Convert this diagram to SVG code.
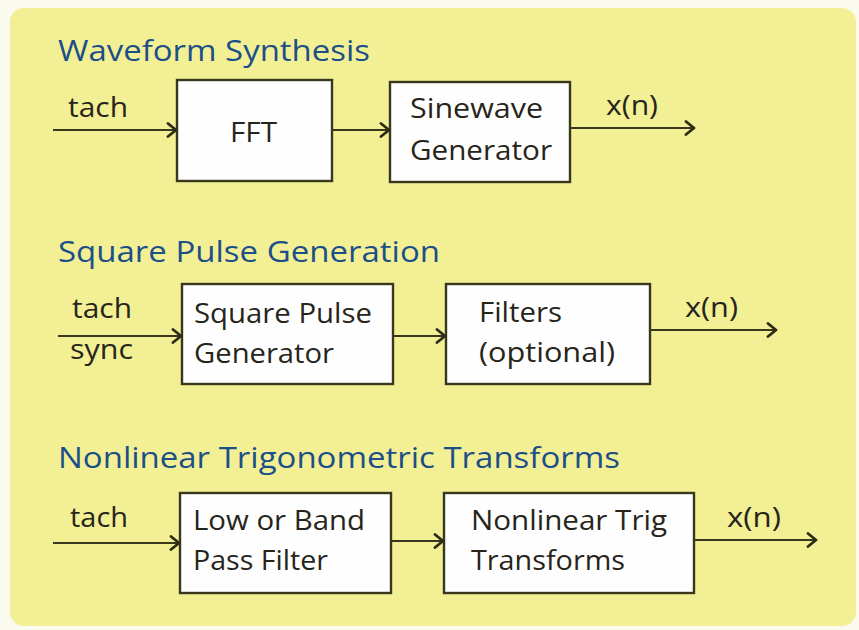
<svg xmlns="http://www.w3.org/2000/svg" width="859" height="630" viewBox="0 0 859 630">
  <defs>
    <marker id="arr" markerUnits="userSpaceOnUse" markerWidth="16" markerHeight="18" refX="10" refY="8" orient="auto">
      <path d="M2,1.5 L10,8 L2,14.5" fill="none" stroke="#2e2c14" stroke-width="2.8" stroke-linecap="round" stroke-linejoin="round"/>
    </marker>
  </defs>
  <style>
    .title { font-family: "Open Sans", "Liberation Sans", sans-serif; font-size: 29px; fill: #1c4f88; }
    .lbl { font-family: "Open Sans", "Liberation Sans", sans-serif; font-size: 27px; fill: #27251a; }
    .box { fill: #fefefe; stroke: #3a381c; stroke-width: 2.4; }
    .conn { fill: none; stroke: #3a381c; stroke-width: 2.2; marker-end: url(#arr); }
  </style>
  <rect x="0" y="0" width="859" height="630" fill="#fbfaee"/>
  <rect x="10" y="8" width="846" height="618" rx="14" fill="#f2ef95"/>

  <!-- Section titles and labels -->
  <g id="titles">
    <text class="title" x="58" y="61" textLength="312" lengthAdjust="spacingAndGlyphs">Waveform Synthesis</text>
    <text class="title" x="58" y="262" textLength="382" lengthAdjust="spacingAndGlyphs">Square Pulse Generation</text>
    <text class="title" x="58" y="468" textLength="562" lengthAdjust="spacingAndGlyphs">Nonlinear Trigonometric Transforms</text>
  </g>

  <g id="labels">
    <text class="lbl" x="68" y="117" textLength="60" lengthAdjust="spacingAndGlyphs">tach</text>
    <text class="lbl" x="606" y="115" textLength="52" lengthAdjust="spacingAndGlyphs">x(n)</text>
    <text class="lbl" x="72" y="318" textLength="60" lengthAdjust="spacingAndGlyphs">tach</text>
    <text class="lbl" x="70" y="359" textLength="63" lengthAdjust="spacingAndGlyphs">sync</text>
    <text class="lbl" x="685" y="317" textLength="53" lengthAdjust="spacingAndGlyphs">x(n)</text>
    <text class="lbl" x="70" y="527" textLength="58" lengthAdjust="spacingAndGlyphs">tach</text>
    <text class="lbl" x="727" y="527" textLength="54" lengthAdjust="spacingAndGlyphs">x(n)</text>
  </g>

  <!-- Nodes -->
  <g id="fft">
    <rect class="box" x="177" y="80" width="155" height="101"/>
    <text class="lbl" x="230" y="142" textLength="47" lengthAdjust="spacingAndGlyphs">FFT</text>
  </g>
  <g id="sinewave">
    <rect class="box" x="390" y="82" width="180" height="100"/>
    <text class="lbl" x="410" y="118" textLength="133" lengthAdjust="spacingAndGlyphs">Sinewave</text>
    <text class="lbl" x="410" y="160" textLength="142" lengthAdjust="spacingAndGlyphs">Generator</text>
  </g>
  <g id="squarepulse">
    <rect class="box" x="182" y="284" width="211" height="100"/>
    <text class="lbl" x="194" y="323" textLength="178" lengthAdjust="spacingAndGlyphs">Square Pulse</text>
    <text class="lbl" x="194" y="363" textLength="140" lengthAdjust="spacingAndGlyphs">Generator</text>
  </g>
  <g id="filters">
    <rect class="box" x="446" y="284" width="204" height="100"/>
    <text class="lbl" x="479" y="322" textLength="83" lengthAdjust="spacingAndGlyphs">Filters</text>
    <text class="lbl" x="479" y="362" textLength="136" lengthAdjust="spacingAndGlyphs">(optional)</text>
  </g>
  <g id="lowband">
    <rect class="box" x="180" y="493" width="211" height="100"/>
    <text class="lbl" x="193" y="530" textLength="172" lengthAdjust="spacingAndGlyphs">Low or Band</text>
    <text class="lbl" x="193" y="570" textLength="135" lengthAdjust="spacingAndGlyphs">Pass Filter</text>
  </g>
  <g id="nonlinear">
    <rect class="box" x="444" y="493" width="250" height="100"/>
    <text class="lbl" x="471" y="530" textLength="196" lengthAdjust="spacingAndGlyphs">Nonlinear Trig</text>
    <text class="lbl" x="471" y="570" textLength="154" lengthAdjust="spacingAndGlyphs">Transforms</text>
  </g>

  <!-- Connectors -->
  <g id="connectors">
    <line class="conn" x1="53" y1="130" x2="176" y2="130"/>
    <line class="conn" x1="333" y1="130" x2="389" y2="130"/>
    <line class="conn" x1="571" y1="128" x2="694" y2="128"/>
    <line class="conn" x1="58" y1="336" x2="181" y2="336"/>
    <line class="conn" x1="394" y1="336" x2="445" y2="336"/>
    <line class="conn" x1="651" y1="330" x2="776" y2="330"/>
    <line class="conn" x1="53" y1="543" x2="179" y2="543"/>
    <line class="conn" x1="392" y1="541" x2="443" y2="541"/>
    <line class="conn" x1="695" y1="540" x2="816" y2="540"/>
  </g>
</svg>
